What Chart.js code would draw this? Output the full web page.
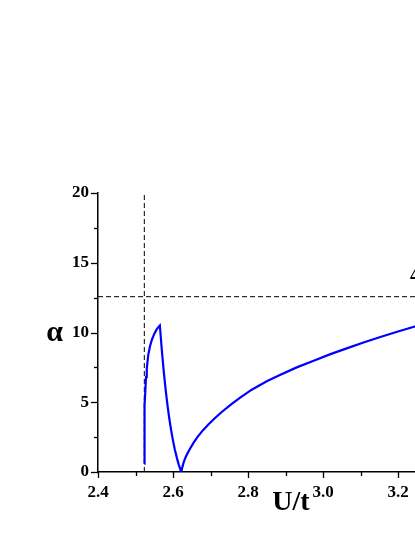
<!DOCTYPE html>
<html lang="en">
<head>
<meta charset="UTF-8">
<title>alpha vs U/t</title>
<script src="https://cdn.jsdelivr.net/npm/chart.js"></script>
<style>
  html, body { margin: 0; padding: 0; background: #fff; overflow: hidden; }
</style>
</head>
<body>
<canvas id="alphaChart" width="500" height="537"></canvas>
<script>
// values
const uValues = [2.5235, 2.5236, 2.5238, 2.5242, 2.5250, 2.5262, 2.5280, 2.5300, 2.5340, 2.5390, 2.5440, 2.5500, 2.5560, 2.5610, 2.5650,
                 2.5700, 2.5750, 2.5800, 2.5850, 2.5900, 2.5950, 2.6000, 2.6050, 2.6100, 2.6150, 2.6220,
                 2.6250, 2.6280, 2.6320, 2.6370, 2.6450, 2.6550, 2.6650, 2.6800, 2.6950, 2.7100, 2.7300, 2.7550,
                 2.7800, 2.8100, 2.8500, 2.8850, 2.9300, 2.9750, 3.0200, 3.0650, 3.1100, 3.1550, 3.2000, 3.2450,
                 3.2900, 3.3400, 3.4000];
const alphaValues = [0.6, 1.5, 2.6, 3.7, 4.8, 5.8, 6.8, 7.4, 8.4, 9.05, 9.5, 9.9, 10.2, 10.38, 10.5,
                     8.8, 7.3, 6.0, 4.85, 3.85, 3.0, 2.25, 1.6, 1.05, 0.55, 0.0,
                     0.35, 0.65, 0.95, 1.25, 1.65, 2.1, 2.5, 3.0, 3.42, 3.82, 4.3, 4.85,
                     5.35, 5.9, 6.5, 6.95, 7.5, 7.98, 8.45, 8.88, 9.3, 9.7, 10.07, 10.43,
                     10.78, 11.15, 11.6];
const uCritical = 2.5235;          // vertical dashed line
const alphaLimit = 4 * Math.PI;    // horizontal dashed line
const xTicks = [2.4, 2.6, 2.8, 3.0, 3.2, 3.4];
const yTicks = [0, 5, 10, 15, 20];

const serif = '"Liberation Serif", "Times New Roman", serif';

// small ticks (major + minor) drawn outside the axes, plus the axis titles
const axisDecor = {
  id: 'axisDecor',
  afterDraw(chart) {
    const ctx = chart.ctx;
    const x = chart.scales.x, y = chart.scales.y;
    const area = chart.chartArea;
    ctx.save();
    ctx.strokeStyle = '#000';
    ctx.lineWidth = 1.3;
    for (let i = 0; i <= 10; i++) {
      const px = Math.round(x.getPixelForValue(2.4 + i * 0.1)) + 0.5;
      const len = i % 2 === 0 ? 6 : 4;
      ctx.beginPath();
      ctx.moveTo(px, area.bottom);
      ctx.lineTo(px, area.bottom + len);
      ctx.stroke();
    }
    for (let i = 0; i <= 8; i++) {
      const py = Math.round(y.getPixelForValue(i * 2.5)) + 0.5;
      const len = i % 2 === 0 ? 7 : 4;
      ctx.beginPath();
      ctx.moveTo(area.left, py);
      ctx.lineTo(area.left - len, py);
      ctx.stroke();
    }
    ctx.fillStyle = '#000';
    ctx.textAlign = 'center';
    ctx.textBaseline = 'alphabetic';
    ctx.font = 'bold 30px ' + serif;
    ctx.fillText('α', 54.5, 341);
    ctx.font = 'bold 28px ' + serif;
    ctx.fillText('U/t', 291, 510);
    ctx.textAlign = 'left';
    ctx.font = 'bold 18px ' + serif;
    ctx.fillText('4π', 410, 281);
    ctx.restore();
  }
};

new Chart(document.getElementById('alphaChart'), {
  type: 'scatter',
  data: {
    datasets: [
      {
        label: 'alpha',
        data: uValues.map((u, i) => ({ x: u, y: alphaValues[i] })),
        showLine: true,
        borderColor: '#0000ff',
        borderWidth: 2.2,
        pointRadius: 0,
        tension: 0,
        order: 0
      },
      {
        label: 'critical U',
        data: [{ x: uCritical, y: 0 }, { x: uCritical, y: 20 }],
        showLine: true,
        borderColor: '#000',
        borderWidth: 1,
        borderDash: [5, 3],
        pointRadius: 0,
        order: 1
      },
      {
        label: '4 pi',
        data: [{ x: 2.4, y: alphaLimit }, { x: 3.4, y: alphaLimit }],
        showLine: true,
        borderColor: '#000',
        borderWidth: 1,
        borderDash: [5, 3],
        pointRadius: 0,
        order: 1
      }
    ]
  },
  options: {
    responsive: false,
    animation: false,
    layout: { padding: { top: 193, right: 27, left: 0, bottom: 0 } },
    plugins: { legend: { display: false }, tooltip: { enabled: false } },
    scales: {
      x: {
        type: 'linear',
        min: 2.4,
        max: 3.4,
        afterBuildTicks: s => { s.ticks = xTicks.map(v => ({ value: v })); },
        afterFit: s => { s.height = 65; },
        grid: { display: false, drawTicks: false },
        border: { display: true, color: '#000', width: 1.5 },
        ticks: {
          padding: 10,
          color: '#000',
          font: { family: serif, size: 17, weight: 'bold' },
          maxRotation: 0,
          callback: v => v.toFixed(1)
        }
      },
      y: {
        min: 0,
        max: 20,
        afterBuildTicks: s => { s.ticks = yTicks.map(v => ({ value: v })); },
        afterFit: s => { s.width = 98; },
        grid: { display: false, drawTicks: false },
        border: { display: true, color: '#000', width: 1.5 },
        ticks: {
          padding: 9,
          color: '#000',
          font: { family: serif, size: 17, weight: 'bold' }
        }
      }
    }
  },
  plugins: [axisDecor]
});
</script>
</body>
</html>
